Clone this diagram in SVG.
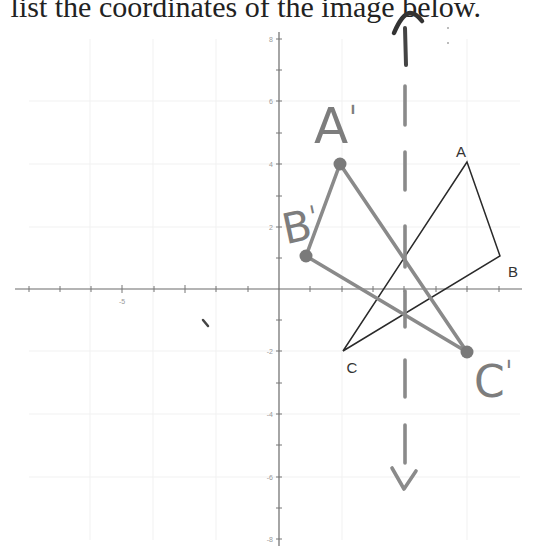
<svg xmlns="http://www.w3.org/2000/svg" width="545" height="548" viewBox="0 0 545 548">
<style>
.grid line{stroke:#f1f1f1;stroke-width:1}
.axis{stroke:#6a6a6a;stroke-width:1.2;fill:none}
.tick{stroke:#777;stroke-width:1}
.tl{font-family:"Liberation Sans",Arial,sans-serif;font-size:7px;fill:#999}
.orig{stroke:#2a2a2a;stroke-width:1.5;fill:none}
.img{stroke:#8a8a8a;stroke-width:3.6;fill:none;stroke-linecap:round}
.dot{fill:#7a7a7a}
.lab{font-family:"Liberation Sans",Arial,sans-serif;font-size:15px;fill:#333}
.hand{font-family:"DejaVu Sans",sans-serif;fill:#7d7d7d}
.dash{stroke:#8a8a8a;stroke-width:3.6;stroke-linecap:round;fill:none}
</style>
<rect width="545" height="548" fill="#fff"/>
<text x="481" y="17" font-family="Liberation Serif,Times New Roman,serif" font-size="30" fill="#222" text-anchor="end">list the coordinates of the image below.</text>
<g class="grid" id="grid">
<line x1="29" y1="101" x2="520" y2="101"/>
<line x1="29" y1="164" x2="520" y2="164"/>
<line x1="29" y1="227" x2="520" y2="227"/>
<line x1="29" y1="351" x2="520" y2="351"/>
<line x1="29" y1="414" x2="520" y2="414"/>
<line x1="29" y1="477" x2="520" y2="477"/>
<line x1="90" y1="39" x2="90" y2="540"/>
<line x1="153" y1="39" x2="153" y2="540"/>
<line x1="216" y1="39" x2="216" y2="540"/>
<line x1="342" y1="39" x2="342" y2="540"/>
<line x1="467" y1="39" x2="467" y2="540"/>
</g>
<g id="axes">
<line class="axis" x1="15" y1="289" x2="522" y2="289"/>
<line class="axis" x1="279" y1="32" x2="279" y2="546"/>
<g class="tick">
<line x1="29" y1="286" x2="29" y2="292"/><line x1="60" y1="286" x2="60" y2="292"/>
<line x1="91" y1="286" x2="91" y2="292"/><line x1="122" y1="285" x2="122" y2="293"/>
<line x1="154" y1="286" x2="154" y2="292"/><line x1="185" y1="285" x2="185" y2="293"/>
<line x1="216" y1="286" x2="216" y2="292"/><line x1="248" y1="286" x2="248" y2="292"/>
<line x1="310" y1="286" x2="310" y2="292"/><line x1="342" y1="286" x2="342" y2="292"/>
<line x1="373" y1="286" x2="373" y2="292"/><line x1="404" y1="286" x2="404" y2="292"/>
<line x1="436" y1="286" x2="436" y2="292"/><line x1="467" y1="286" x2="467" y2="292"/>
<line x1="499" y1="286" x2="499" y2="292"/>
<line x1="276" y1="39" x2="282" y2="39"/><line x1="276" y1="70" x2="282" y2="70"/>
<line x1="276" y1="101" x2="282" y2="101"/><line x1="276" y1="133" x2="282" y2="133"/>
<line x1="276" y1="164" x2="282" y2="164"/><line x1="276" y1="196" x2="282" y2="196"/>
<line x1="276" y1="227" x2="282" y2="227"/><line x1="276" y1="258" x2="282" y2="258"/>
<line x1="276" y1="320" x2="282" y2="320"/><line x1="276" y1="351" x2="282" y2="351"/>
<line x1="276" y1="383" x2="282" y2="383"/><line x1="276" y1="414" x2="282" y2="414"/>
<line x1="276" y1="445" x2="282" y2="445"/><line x1="276" y1="477" x2="282" y2="477"/>
<line x1="276" y1="508" x2="282" y2="508"/><line x1="276" y1="539" x2="282" y2="539"/>
</g>
<text class="tl" x="273" y="41.5" text-anchor="end">8</text>
<text class="tl" x="273" y="103.5" text-anchor="end">6</text>
<text class="tl" x="273" y="166.5" text-anchor="end">4</text>
<text class="tl" x="273" y="229.5" text-anchor="end">2</text>
<text class="tl" x="273" y="353.5" text-anchor="end">-2</text>
<text class="tl" x="273" y="416.5" text-anchor="end">-4</text>
<text class="tl" x="273" y="479.5" text-anchor="end">-6</text>
<text class="tl" x="273" y="541.5" text-anchor="end">-8</text>
<text class="tl" x="122" y="304" text-anchor="middle">-5</text>
</g>
<g id="connectors">
<polygon class="orig" points="467,162 500,256 343,351"/>
<polygon class="img" points="340,164 306,256 467,352" stroke-linejoin="round"/>
</g>
<g id="node-A"><text class="lab" x="461" y="157" text-anchor="middle">A</text></g>
<g id="node-B"><text class="lab" x="513" y="277" text-anchor="middle">B</text></g>
<g id="node-C"><text class="lab" x="352" y="373" text-anchor="middle">C</text></g>
<g id="node-A1"><circle class="dot" cx="340" cy="164" r="6.5"/><text class="hand" x="314" y="143" font-size="50">A<tspan font-size="34" dy="-12">ˈ</tspan></text></g>
<g id="node-B1"><circle class="dot" cx="306" cy="256" r="6.5"/><text class="hand" x="282" y="242" font-size="42" transform="rotate(-12 295 225)">B<tspan font-size="30" dy="-10">ˈ</tspan></text></g>
<g id="node-C1"><circle class="dot" cx="467" cy="352" r="6.5"/><text class="hand" x="474" y="397" font-size="44">C<tspan font-size="30" dy="-14">ˈ</tspan></text></g>
<g id="mirror">
<path d="M394,33 Q402,14 410,13 Q416,13 422,21" stroke="#333" stroke-width="4.5" fill="none" stroke-linecap="round"/>
<line x1="405" y1="28" x2="406" y2="65" stroke="#444" stroke-width="4" stroke-linecap="round"/>
<line class="dash" x1="405" y1="86" x2="405" y2="125"/>
<line class="dash" x1="405" y1="152" x2="405" y2="190"/>
<line class="dash" x1="405" y1="226" x2="405" y2="267"/>
<line class="dash" x1="405" y1="291" x2="405" y2="327"/>
<line class="dash" x1="405" y1="360" x2="405" y2="397"/>
<line class="dash" x1="405" y1="425" x2="405" y2="463"/>
<path class="dash" d="M392,468 L404,489 L416,471" stroke-linejoin="round"/>
</g>
<line x1="203" y1="320" x2="208" y2="326" stroke="#444" stroke-width="2.5" stroke-linecap="round"/>
<circle cx="448" cy="28" r="0.8" fill="#666"/>
<circle cx="448" cy="43" r="0.8" fill="#666"/>
</svg>
